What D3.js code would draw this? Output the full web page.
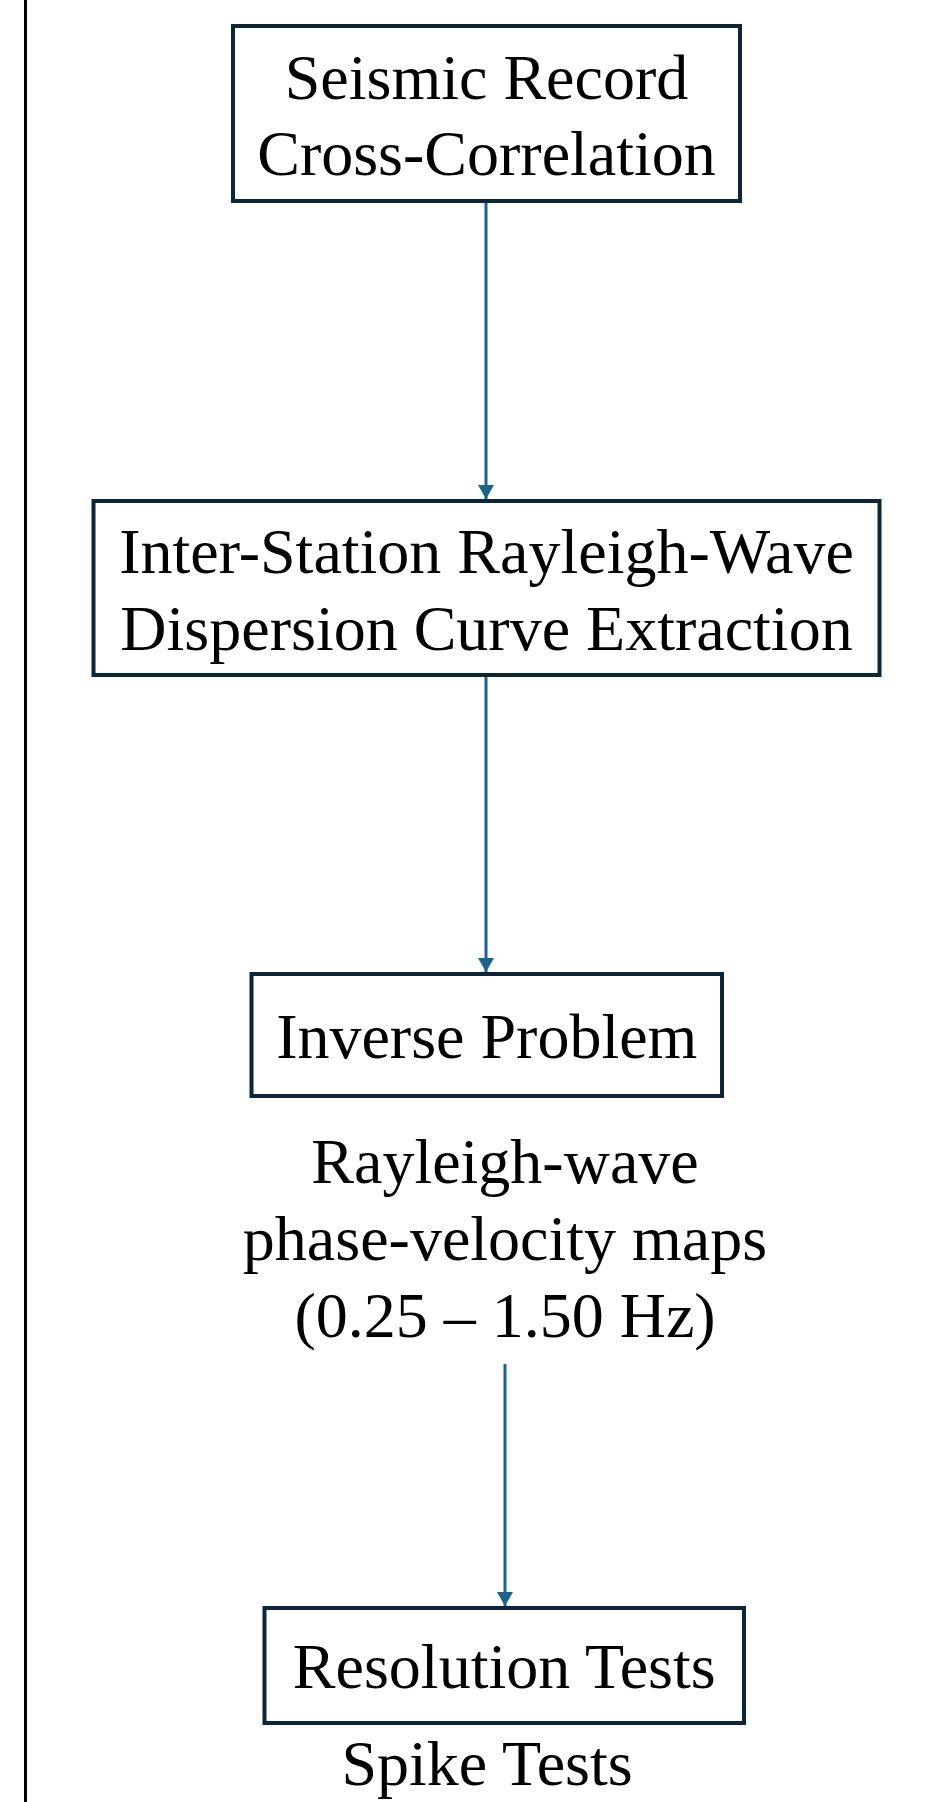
<!DOCTYPE html>
<html>
<head>
<meta charset="utf-8">
<script src="https://cdn.jsdelivr.net/npm/d3@7"></script>
<style>
  body { margin: 0; background: #fff; }
  svg { display: block; }
</style>
</head>
<body>
<svg width="930" height="1802"></svg>
<script>
// flow steps (boxed) and the notes under some of them
const stepLabels = [
    ["Seismic Record", "Cross-Correlation"],
    ["Inter-Station Rayleigh-Wave", "Dispersion Curve Extraction"],
    ["Inverse Problem"],
    ["Resolution Tests"]
];
const noteLabels = [
    null,
    null,
    ["Rayleigh-wave", "phase-velocity maps", "(0.25 \u2013 1.50 Hz)"],
    ["Spike Tests"]
];
// which item each arrow links: [from, to]
const links = [[0, 1], [1, 2], [2, 3]];

// layout (pixels)
const boxGeom = [
    {x0: 233, x1: 740, y0: 26, y1: 201, base: [99, 175]},
    {x0: 93.5, x1: 879.5, y0: 501, y1: 675, base: [573, 650]},
    {x0: 251.5, x1: 722, y0: 974, y1: 1096, base: [1058]},
    {x0: 264.5, x1: 744, y0: 1608, y1: 1723, base: [1688]}
];
const noteGeom = [
    null,
    null,
    {cx: 505, base: [1183, 1260, 1337]},
    {cx: 487, base: [1785]}
];
// arrows start either from a box bottom or from a note bottom
const arrowGeom = [
    {x: 486, y0: 203, y1: 499},
    {x: 486, y0: 677, y1: 972},
    {x: 505, y0: 1364, y1: 1606}
];

const font = "'Liberation Serif', 'Times New Roman', serif";
const boxColor = "#0c2638";
const arrowColor = "#1a6389";

const svg = d3.select("svg");

svg.append("rect").attr("width", 930).attr("height", 1802).attr("fill", "#fff");

// left frame line
svg.append("line")
    .attr("x1", 25.5).attr("x2", 25.5)
    .attr("y1", 0).attr("y2", 1802)
    .attr("stroke", "#000").attr("stroke-width", 3);

svg.append("defs").append("marker")
    .attr("id", "head")
    .attr("viewBox", "0 0 14 16")
    .attr("refX", 14).attr("refY", 8)
    .attr("markerWidth", 14).attr("markerHeight", 16)
    .attr("markerUnits", "userSpaceOnUse")
    .attr("orient", "auto")
    .append("path")
    .attr("d", "M0,0 L14,8 L0,16 Z")
    .attr("fill", arrowColor);

// arrows
svg.selectAll("line.arrow")
    .data(links)
    .enter().append("line")
    .attr("class", "arrow")
    .attr("x1", (d, i) => arrowGeom[i].x)
    .attr("x2", (d, i) => arrowGeom[i].x)
    .attr("y1", (d, i) => arrowGeom[i].y0)
    .attr("y2", (d, i) => arrowGeom[i].y1)
    .attr("stroke", arrowColor)
    .attr("stroke-width", 3)
    .attr("marker-end", "url(#head)");

// boxes
const steps = svg.selectAll("g.step")
    .data(stepLabels)
    .enter().append("g")
    .attr("class", "step");

steps.append("rect")
    .attr("x", (d, i) => boxGeom[i].x0)
    .attr("y", (d, i) => boxGeom[i].y0)
    .attr("width", (d, i) => boxGeom[i].x1 - boxGeom[i].x0)
    .attr("height", (d, i) => boxGeom[i].y1 - boxGeom[i].y0)
    .attr("fill", "#fff")
    .attr("stroke", boxColor)
    .attr("stroke-width", 4);

steps.each(function(lines, i) {
    const g = boxGeom[i];
    const cx = (g.x0 + g.x1) / 2;
    d3.select(this).selectAll("text")
        .data(lines)
        .enter().append("text")
        .attr("x", cx)
        .attr("y", (t, j) => g.base[j])
        .attr("text-anchor", "middle")
        .attr("font-family", font)
        .attr("font-size", "64px")
        .attr("fill", "#000")
        .text(t => t);
});

// notes
noteLabels.forEach((lines, i) => {
    if (!lines) return;
    const g = noteGeom[i];
    svg.append("g").selectAll("text")
        .data(lines)
        .enter().append("text")
        .attr("x", g.cx)
        .attr("y", (t, j) => g.base[j])
        .attr("text-anchor", "middle")
        .attr("font-family", font)
        .attr("font-size", "64px")
        .attr("fill", "#000")
        .text(t => t);
});
</script>
</body>
</html>
